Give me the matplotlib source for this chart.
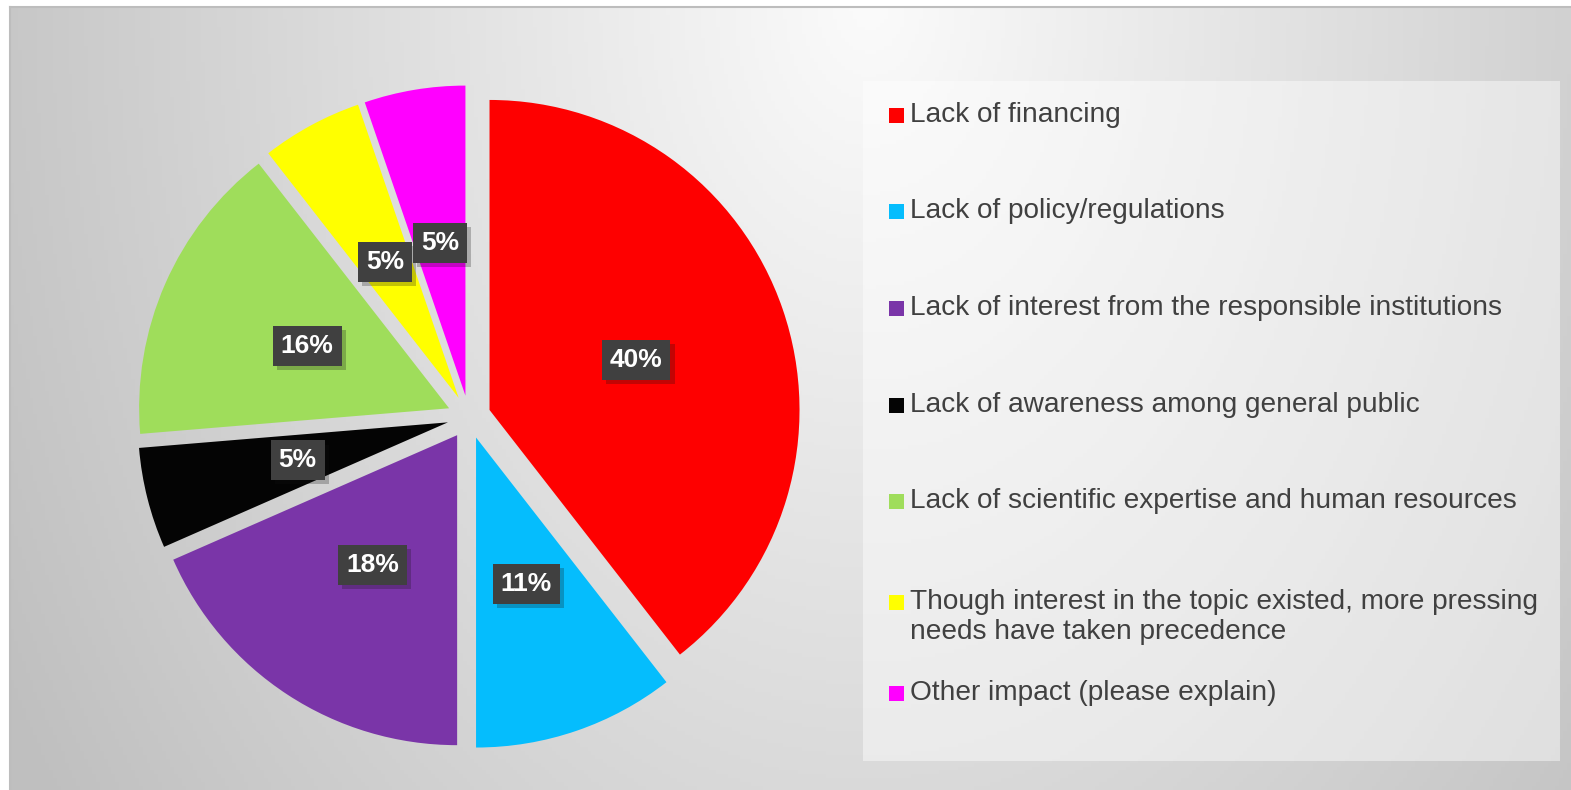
import numpy as np
import matplotlib.pyplot as plt
import matplotlib.patheffects as pe
from matplotlib.patches import Rectangle

categories = ['Lack of financing',
              'Lack of policy/regulations',
              'Lack of interest from the responsible institutions',
              'Lack of awareness among general public',
              'Lack of scientific expertise and human resources',
              'Though interest in the topic existed, more pressing\nneeds have taken precedence',
              'Other impact (please explain)']
responses = [15, 4, 7, 2, 6, 2, 2]  # slice sizes
pct_labels = ['40%', '11%', '18%', '5%', '16%', '5%', '5%']  # as printed on the chart
colors = ['#fe0000', '#05bdfd', '#7a35a8', '#040404', '#9fdd5b', '#ffff00', '#ff00ff']

W, H = 1571, 790
fig = plt.figure(figsize=(W / 100, H / 100), dpi=100)
fig.patch.set_facecolor('white')

# background with a soft radial gradient
bg = fig.add_axes([10 / W, 0, 1 - 10 / W, (H - 7) / H])
xx, yy = np.meshgrid(np.linspace(10, W, 400), np.linspace(7, H, 200))
d = np.sqrt(((xx - 870) / 850) ** 2 + ((yy - 0) / 1200) ** 2)
g = np.clip(0.985 - 0.2 * d, 0.75, 1)
bg.imshow(np.dstack([g, g, g]), aspect='auto', extent=[0, 1, 0, 1], origin='upper')
bg.set_xticks([])
bg.set_yticks([])
for s in ['right', 'bottom']:
    bg.spines[s].set_visible(False)
for s in ['top', 'left']:
    bg.spines[s].set_color('#bdbdbd')
    bg.spines[s].set_linewidth(1.5)

# legend panel
fig.patches.append(Rectangle((863 / W, 1 - 761 / H), (1560 - 863) / W, (761 - 81) / H,
                             transform=fig.transFigure, fc='white', ec='none', alpha=0.45))

# pie
R = 310
cx, cy = 469, 417
half = 1.15 * R
ax = fig.add_axes([(cx - half) / W, (H - cy - half) / H, 2 * half / W, 2 * half / H])
lab_iter = iter(pct_labels)
wedges, texts, autotexts = ax.pie(responses, colors=colors, startangle=90, counterclock=False,
                                  explode=[0.07] * len(responses), radius=1,
                                  autopct=lambda p: next(lab_iter), pctdistance=0.5,
                                  wedgeprops=dict(linewidth=0))
ax.set_xlim(-1.15, 1.15)
ax.set_ylim(-1.15, 1.15)
ax.set_aspect('equal')
ax.axis('off')

for t in autotexts:
    t.set_color('white')
    t.set_fontsize(19)
    t.set_fontweight('bold')
    t.set_fontfamily('Liberation Sans')
    t.set_bbox(dict(boxstyle='square,pad=0.3', fc='#404040', ec='none'))
    t.get_bbox_patch().set_path_effects([pe.SimplePatchShadow(offset=(3, -3), alpha=0.25),
                                         pe.Normal()])

# legend entries
legend_y = [115, 211, 308, 405, 501, 602, 693]
for lab, col, y in zip(categories, colors, legend_y):
    fig.patches.append(Rectangle((889 / W, 1 - (y + 8) / H), 15 / W, 15 / H,
                                 transform=fig.transFigure, fc=col, ec='none'))
    n = lab.count('\n')
    fig.text(910 / W, 1 - (y + n * 15) / H, lab, fontsize=20.2, color='#404040',
             family='Liberation Sans', va='center', ha='left', linespacing=1.22)

fig.savefig('out.png', dpi=100)
